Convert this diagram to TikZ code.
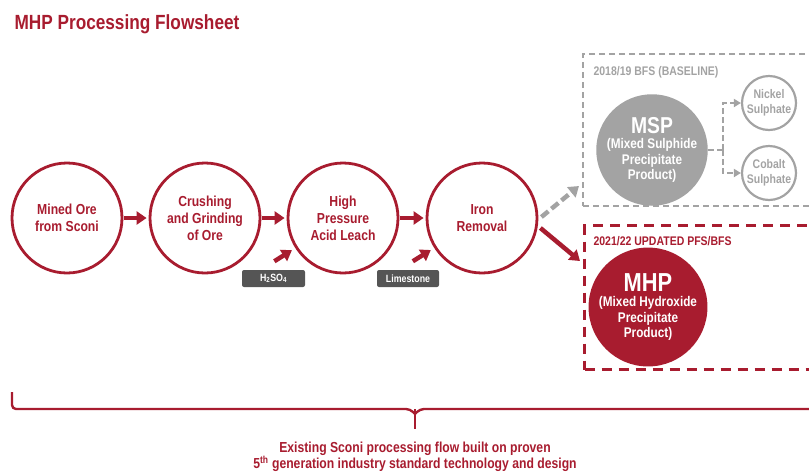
\documentclass[tikz,border=0pt]{standalone}
\usepackage{fontspec}
\setmainfont{Liberation Sans}[FakeStretch=0.84]
\usetikzlibrary{arrows.meta,calc}
\definecolor{brand}{HTML}{A81C2F}
\definecolor{greyc}{HTML}{A3A3A3}
\definecolor{darkbox}{HTML}{555555}
\tikzset{
  proc/.style={circle,draw=brand,line width=2.8pt,minimum size=110pt,inner sep=0pt,align=center,
    text=brand,font=\bfseries\fontsize{14.5}{17}\selectfont},
  flow/.style={draw=brand,line width=4.5pt,-{Triangle[length=10pt,width=13pt]},shorten <=1pt,shorten >=2pt},
  reagent/.style={fill=darkbox,rounded corners=2pt,minimum height=17pt,inner sep=0pt,text=white,
    font=\bfseries\fontsize{10.5}{11}\selectfont},
  greyflow/.style={draw=greyc,line width=4.5pt,dash pattern=on 9pt off 4pt,-{Triangle[length=10pt,width=13pt]}},
  greythin/.style={draw=greyc,line width=2.4pt,dash pattern=on 6pt off 3pt,-{Triangle[length=7pt,width=8pt]}},
  product/.style={circle,draw=greyc,line width=2.2pt,minimum size=54pt,inner sep=0pt,align=center,
    text=greyc,font=\bfseries\fontsize{12.5}{15}\selectfont},
  boxlabel/.style={anchor=west,font=\bfseries\fontsize{12.5}{14}\selectfont}
}
\begin{document}
\begin{tikzpicture}[x=1pt,y=-1pt]
\useasboundingbox (0,0) rectangle (809,475);
\clip (0,0) rectangle (809,475);
% title
\node[anchor=west,text=brand,font=\bfseries\fontsize{20.5}{22}\selectfont] (title) at (11,24) {MHP Processing Flowsheet};
% process circles
\node[proc] (mined) at (67,218) {Mined Ore\\from Sconi};
\node[proc] (crush) at (205,218) {Crushing\\and Grinding\\of Ore};
\node[proc] (hpal) at (343,218) {High\\Pressure\\Acid Leach};
\node[proc] (iron) at (482,218) {Iron\\Removal};
\draw[flow] (mined) -- (crush);
\draw[flow] (crush) -- (hpal);
\draw[flow] (hpal) -- (iron);
% reagents
\node[reagent,minimum width=63pt] (acid) at (273.5,278.5) {H\textsubscript{2}SO\textsubscript{4}};
\node[reagent,minimum width=62pt] (lime) at (408,278.5) {Limestone};
\draw[flow,shorten >=4pt] ($(acid.north)+(0,-8)$) -- (hpal);
\draw[flow,shorten >=4pt] ($(lime.north)+(4,-8)$) -- (iron);
% baseline box
\node[draw=greyc,line width=2pt,dash pattern=on 6pt off 4pt,minimum width=260pt,minimum height=152pt,anchor=north west,inner sep=0pt] (basebox) at (582,53) {};
\node[boxlabel,text=greyc] (baselbl) at (590,72) {2018/19 BFS (BASELINE)};
\node[circle,fill=greyc,minimum size=106pt,inner sep=0pt,align=center,text=white,font=\bfseries\fontsize{14}{15.5}\selectfont] (msp) at (652,150)
  {{\fontsize{23}{25}\selectfont MSP}\\(Mixed Sulphide\\Precipitate\\Product)};
\node[product] (nickel) at (769,103) {Nickel\\Sulphate};
\node[product] (cobalt) at (769,173) {Cobalt\\Sulphate};
\coordinate (split) at (723,150);
\draw[greythin,-] (msp.east) -- (split);
\draw[greythin] (split) |- (nickel.west);
\draw[greythin] (split) |- (cobalt.west);
% updated box
\node[draw=brand,line width=3pt,dash pattern=on 10pt off 7pt,minimum width=260pt,minimum height=144pt,anchor=north west,inner sep=0pt] (mhpbox) at (583,224) {};
\node[boxlabel,text=brand] (mhplbl) at (590,241) {2021/22 UPDATED PFS/BFS};
\node[circle,fill=brand,minimum size=108pt,inner sep=0pt,align=center,text=white,font=\bfseries\fontsize{14}{15.5}\selectfont] (mhp) at (648,307)
  {{\fontsize{26}{28}\selectfont MHP}\\(Mixed Hydroxide\\Precipitate\\Product)};
% out arrows
\coordinate (gtip) at (579,186);
\coordinate (rtip) at (580,261);
\draw[greyflow] ($(iron.east)+(3,-1)$) -- (gtip);
\draw[flow,shorten <=0pt,shorten >=0pt] ($(iron.east)+(2,10)$) -- (rtip);
% brace
\draw[brand,line width=2.4pt,rounded corners=4pt] (12,392) -- (12,409) -- (410,409) -- (415,414);
\draw[brand,line width=2.4pt,rounded corners=4pt] (415,414) -- (420,409) -- (815,409);
\draw[brand,line width=2.4pt] (415,409) -- (415,429);
\node[text=brand,align=center,font=\bfseries\fontsize{14.5}{16.5}\selectfont] (caption) at (415,457)
  {Existing Sconi processing flow built on proven\\5\textsuperscript{th} generation industry standard technology and design};
\end{tikzpicture}
\end{document}
